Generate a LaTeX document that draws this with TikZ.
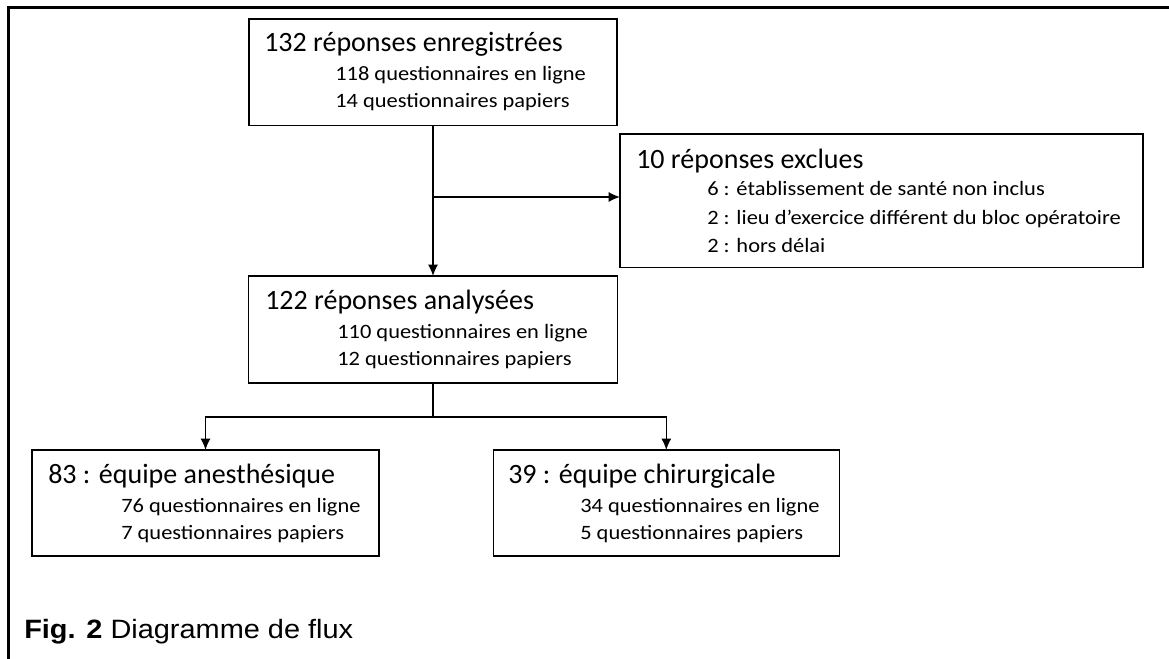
\documentclass[tikz,border=0pt]{standalone}
\usepackage{fontspec}
\setmainfont{Carlito}
\newfontfamily\titlefont{Carlito}
\newfontfamily\subfont[FakeStretch=1.1]{Carlito}
\newfontfamily\capfont[FakeStretch=1.09]{Liberation Sans}
\usetikzlibrary{arrows.meta,calc}
\begin{document}
\begin{tikzpicture}[x=0.75pt,y=-0.75pt,
  box/.style={draw=black, line width=1.2pt, rectangle, inner sep=0pt, outer sep=0pt},
  ttl/.style={anchor=base west, inner sep=0pt, font=\titlefont\fontsize{21}{25}\selectfont},
  sub/.style={anchor=base west, inner sep=0pt, font=\subfont\fontsize{15.3}{18}\selectfont},
  link/.style={line width=1.1pt, draw=black},
  arr/.style={link, -{Latex[length=8.5pt,width=7.5pt]}},
  frame/.style={line width=2.25pt, draw=black},
  captxt/.style={anchor=base west, inner sep=0pt, font=\capfont\fontsize{19.9}{23}\selectfont}
]
\useasboundingbox (0,0) rectangle (1169,659);
\draw[frame] (8,680) -- (8,7.5) -- (1190,7.5);

% boxes
\node[box, minimum width=276pt, minimum height=79.9pt] (top) at (433,72.3) {};
\node[box, minimum width=392.25pt, minimum height=100.3pt] (excl) at (881.5,200.8) {};
\node[box, minimum width=276.75pt, minimum height=80.25pt] (mid) at (433,329.5) {};
\node[box, minimum width=260.25pt, minimum height=79.5pt] (left) at (205.5,503) {};
\node[box, minimum width=259.5pt, minimum height=79.5pt] (right) at (666.3,503) {};

% texts
\node[ttl] (topT) at (264,52) {132 réponses enregistrées};
\node[sub] (topA) at (335,81) {118 questionnaires en ligne};
\node[sub] (topB) at (335,108) {14 questionnaires papiers};

\node[ttl] (exclT) at (636,169) {10 réponses exclues};
\node[sub] (exclA) at (707,196) {6 : établissement de santé non inclus};
\node[sub] (exclB) at (707,224) {2 : lieu d’exercice différent du bloc opératoire};
\node[sub] (exclC) at (707,252) {2 : hors délai};

\node[ttl] (midT) at (265,309) {122 réponses analysées};
\node[sub] (midA) at (337,338) {110 questionnaires en ligne};
\node[sub] (midB) at (337,365) {12 questionnaires papiers};

\node[ttl] (leftT) at (48,483) {83 : équipe anesthésique};
\node[sub] (leftA) at (121,512) {76 questionnaires en ligne};
\node[sub] (leftB) at (121,539) {7 questionnaires papiers};

\node[ttl] (rightT) at (508,483) {39 : équipe chirurgicale};
\node[sub] (rightA) at (580,512) {34 questionnaires en ligne};
\node[sub] (rightB) at (580,539) {5 questionnaires papiers};

\node[captxt] (cap) at (24,638) {\textbf{Fig. 2} Diagramme de flux};

% connectors
\coordinate (b1) at (433,197);
\draw[arr] (top.south) -- (mid.north);
\draw[arr] (b1) -- (b1 -| excl.west);
\coordinate (b2) at (433,417);
\draw[link] (mid.south) -- (b2);
\draw[arr] (b2) -| (left.north);
\draw[arr] (b2) -| (right.north);
\end{tikzpicture}
\end{document}
